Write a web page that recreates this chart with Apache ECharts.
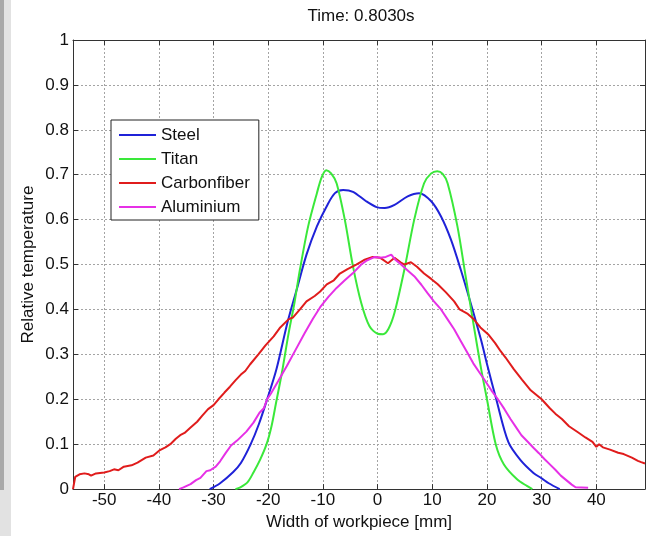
<!DOCTYPE html>
<html><head><meta charset="utf-8">
<script src="https://cdn.jsdelivr.net/npm/echarts@6/dist/echarts.min.js"></script>
<style>html,body{margin:0;padding:0;background:#fff}#c{width:652px;height:536px}</style>
</head><body><div id="c"></div>
<script>
const titleText = 'Time: 0.8030s';
const xName = 'Width of workpiece [mm]';
const yName = 'Relative temperature';
const xTicks = [-50, -40, -30, -20, -10, 0, 10, 20, 30, 40];
const xMin = -55.7, xMax = 48.9;

const steelX = [-30.7,-28.8,-26.4,-25.0,-23.2,-21.7,-20.2,-18.5,-16.5,-14.8,-13.0,-11.1,-9.3,-7.8,-6.3,-4.5,-2.1,-0.2,1.3,3.1,5.5,7.6,9.8,11.6,13.4,15.2,17.0,18.9,20.1,21.7,23.9,26.1,28.5,30.0,31.3,33.3];
const steelY = [0,0.013,0.038,0.058,0.10,0.145,0.2,0.267,0.37,0.444,0.522,0.585,0.63,0.659,0.666,0.662,0.641,0.628,0.626,0.633,0.652,0.659,0.641,0.607,0.556,0.489,0.415,0.333,0.274,0.2,0.105,0.065,0.036,0.024,0.013,0];

const titanX = [-26.0,-25.1,-23.8,-22.7,-21.5,-20.3,-19.4,-18.6,-17.5,-16.3,-15.2,-14.2,-12.7,-11.1,-10.2,-9.4,-8.5,-7.5,-6.0,-4.5,-3.0,-1.5,0.0,1.0,2.0,3.1,4.9,6.7,8.5,9.8,10.9,11.9,12.8,14.6,16.1,17.6,18.9,20.0,21.6,23.1,25.5,27.3,28.3];
const titanY = [0,0.004,0.015,0.037,0.065,0.10,0.14,0.19,0.259,0.345,0.415,0.489,0.585,0.659,0.695,0.71,0.703,0.681,0.60,0.496,0.415,0.363,0.346,0.345,0.357,0.393,0.489,0.60,0.681,0.703,0.708,0.702,0.681,0.585,0.474,0.363,0.27,0.2,0.1,0.055,0.022,0.007,0];

const carbonX = [-55.7,-55.3,-54.5,-53.6,-52.8,-52.4,-51.5,-50.0,-49.0,-48.2,-47.4,-46.4,-45.0,-43.9,-42.4,-41.0,-39.8,-38.8,-37.9,-36.9,-36.1,-35.3,-34.2,-33.0,-32.1,-31.0,-30.0,-29.1,-28.0,-27.0,-26.0,-25.0,-24.2,-23.3,-21.8,-20.5,-19.0,-17.8,-16.3,-15.5,-14.2,-13.0,-11.5,-10.5,-9.3,-8.0,-6.9,-5.5,-3.9,-2.5,-0.9,0.5,1.9,3.1,4.2,4.9,6.1,7.2,8.5,9.8,11.0,12.5,14.0,15.0,16.5,17.6,18.8,20.2,21.5,22.5,23.4,24.9,26.4,28.0,30.0,31.5,32.5,33.7,35.0,36.7,38.0,39.3,40.0,40.5,41.2,42.5,44.0,45.0,46.5,47.6,48.2,48.9];
const carbonY = [0,0.027,0.033,0.035,0.033,0.030,0.035,0.037,0.040,0.044,0.042,0.050,0.053,0.059,0.070,0.075,0.087,0.093,0.100,0.112,0.120,0.125,0.137,0.150,0.163,0.178,0.187,0.200,0.215,0.228,0.242,0.255,0.263,0.278,0.300,0.320,0.340,0.360,0.378,0.382,0.400,0.418,0.430,0.440,0.456,0.465,0.480,0.490,0.500,0.510,0.517,0.515,0.503,0.515,0.505,0.500,0.505,0.495,0.480,0.468,0.456,0.438,0.418,0.400,0.390,0.378,0.360,0.345,0.325,0.307,0.293,0.267,0.244,0.220,0.200,0.180,0.168,0.156,0.140,0.126,0.115,0.105,0.094,0.100,0.093,0.088,0.081,0.078,0.070,0.063,0.060,0.057];

const alumX = [-36.3,-35.5,-34.2,-33.2,-32.4,-31.3,-30.6,-29.6,-28.8,-27.8,-26.8,-25.7,-24.0,-22.7,-21.6,-20.8,-20.2,-19.5,-18.2,-16.6,-15.0,-13.3,-11.8,-10.5,-9.0,-7.5,-6.0,-4.5,-3.0,-2.1,-0.5,0.5,1.5,2.5,3.3,4.3,5.5,6.7,8.0,9.1,10.3,11.6,12.8,14.0,15.2,16.4,17.5,18.5,19.5,20.8,22.0,23.2,24.3,25.3,26.3,27.5,28.5,29.5,30.5,31.5,32.5,33.5,34.5,35.5,36.2,38.5];
const alumY = [0,0.004,0.011,0.02,0.025,0.04,0.042,0.05,0.062,0.08,0.097,0.108,0.128,0.148,0.17,0.18,0.2,0.213,0.24,0.274,0.31,0.348,0.38,0.405,0.428,0.448,0.465,0.481,0.50,0.508,0.517,0.515,0.517,0.522,0.51,0.50,0.487,0.474,0.455,0.437,0.418,0.40,0.378,0.356,0.33,0.304,0.28,0.262,0.244,0.22,0.2,0.178,0.156,0.138,0.12,0.105,0.092,0.08,0.067,0.055,0.043,0.03,0.02,0.01,0.004,0.003];

const seriesNames = ['Steel', 'Titan', 'Carbonfiber', 'Aluminium'];
const seriesColors = ['#1f22d8', '#3ae83a', '#e01c1c', '#e630e6'];

const zip = (xs, ys) => xs.map((x, i) => [x, ys[i]]);
const seriesData = [zip(steelX, steelY), zip(titanX, titanY), zip(carbonX, carbonY), zip(alumX, alumY)];
const smoothing = [0.3, 0.3, false, false];

const FONT = "'Liberation Sans', Arial, sans-serif";
const axisCol = '#333';
const gridLine = { show: true, lineStyle: { color: '#a4a4a4', type: [2, 2], width: 1 } };

const chart = echarts.init(document.getElementById('c'), null, { renderer: 'canvas' });
chart.setOption({
  animation: false,
  backgroundColor: '#fff',
  textStyle: { fontFamily: FONT },
  title: {
    text: titleText, left: 361, top: 8, textAlign: 'center', padding: 0,
    textStyle: { fontFamily: FONT, fontSize: 17, fontWeight: 'normal', color: '#111' }
  },
  graphic: [
    { type: 'rect', shape: { x: 0, y: 0, width: 11, height: 536 }, style: { fill: '#e2e2e2' }, silent: true },
    { type: 'rect', shape: { x: 0, y: 0, width: 4, height: 490 }, style: { fill: '#a8a8a8' }, silent: true }
  ],
  legend: {
    orient: 'vertical', left: 111, top: 120,
    data: seriesNames,
    icon: 'rect', itemWidth: 37, itemHeight: 2, itemGap: 4,
    padding: [5, 9, 3, 8],
    backgroundColor: '#fff', borderColor: '#222', borderWidth: 1, borderRadius: 0,
    textStyle: { fontFamily: FONT, fontSize: 17, lineHeight: 20, color: '#111' }
  },
  grid: { left: 73, right: 7, top: 40, bottom: 46, containLabel: false },
  xAxis: [
    {
      type: 'value', min: xMin, max: xMax, position: 'bottom',
      name: xName, nameLocation: 'middle', nameGap: 20,
      nameTextStyle: { fontFamily: FONT, fontSize: 17, color: '#111' },
      axisLine: { show: true, onZero: false, lineStyle: { color: axisCol, width: 1 } },
      axisTick: { show: true, inside: true, length: 5, customValues: xTicks, lineStyle: { color: axisCol } },
      axisLabel: { show: true, customValues: xTicks, margin: 3, fontFamily: FONT, fontSize: 17, color: '#111' },
      splitLine: gridLine
    },
    {
      type: 'value', min: xMin, max: xMax, position: 'top',
      axisLine: { show: true, onZero: false, lineStyle: { color: axisCol, width: 1 } },
      axisTick: { show: true, inside: true, length: 5, customValues: xTicks, lineStyle: { color: axisCol } },
      axisLabel: { show: false },
      splitLine: { show: false }
    }
  ],
  yAxis: [
    {
      type: 'value', min: 0, max: 1, interval: 0.1, position: 'left',
      name: yName, nameLocation: 'middle', nameGap: 36, nameRotate: 90, nameMoveOverlap: false,
      nameTextStyle: { fontFamily: FONT, fontSize: 17, color: '#111' },
      axisLine: { show: true, onZero: false, lineStyle: { color: axisCol, width: 1 } },
      axisTick: { show: true, inside: true, length: 5, lineStyle: { color: axisCol } },
      axisLabel: { show: true, margin: 4, fontFamily: FONT, fontSize: 17, color: '#111' },
      splitLine: gridLine
    },
    {
      type: 'value', min: 0, max: 1, interval: 0.1, position: 'right',
      axisLine: { show: true, onZero: false, lineStyle: { color: axisCol, width: 1 } },
      axisTick: { show: true, inside: true, length: 5, lineStyle: { color: axisCol } },
      axisLabel: { show: false },
      splitLine: { show: false }
    }
  ],
  series: seriesNames.map((name, i) => ({
    name, type: 'line', xAxisIndex: 0, yAxisIndex: 0,
    data: seriesData[i], showSymbol: false, symbol: 'none',
    smooth: smoothing[i],
    color: seriesColors[i],
    lineStyle: { color: seriesColors[i], width: 2 },
    itemStyle: { color: seriesColors[i] },
    z: 3 + i
  }))
});
</script></body></html>
